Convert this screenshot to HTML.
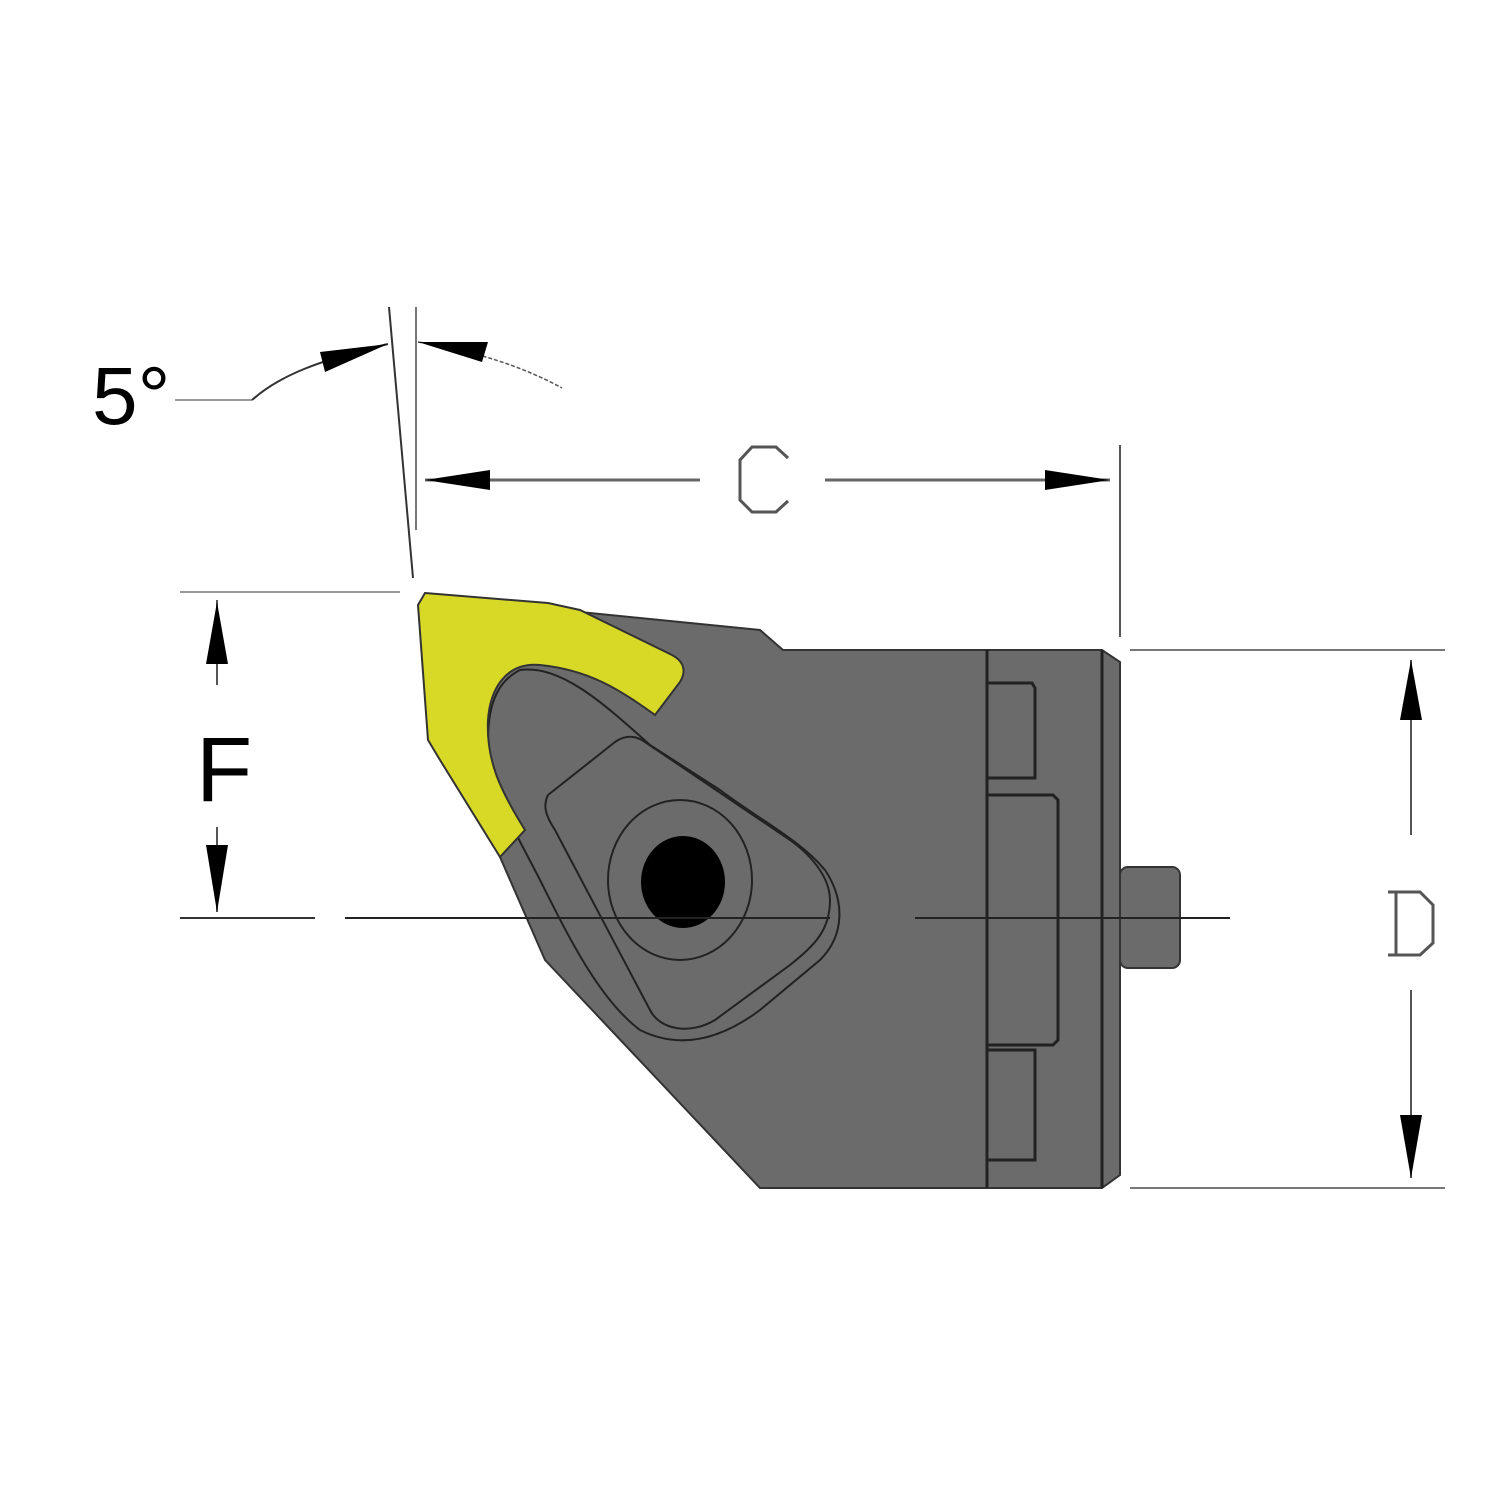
<!DOCTYPE html>
<html><head><meta charset="utf-8"><style>html,body{margin:0;padding:0;background:#fff}svg{display:block}</style></head>
<body>
<svg width="1500" height="1500" viewBox="0 0 1500 1500" xmlns="http://www.w3.org/2000/svg">
<rect width="1500" height="1500" fill="#fff"/>
<!-- main body -->
<path d="M580,612 L760,630 L783,650 L1102,650 L1120,662 L1120,1175 L1102,1188 L760,1188 L545,960 L500,857 L470,780 L470,640 L560,610 Z" fill="#6b6b6b" stroke="#333" stroke-width="2"/>
<rect x="1120" y="867" width="60" height="101" rx="8" fill="#6b6b6b" stroke="#333" stroke-width="2"/>
<line x1="1102" y1="650" x2="1102" y2="1188" stroke="#222" stroke-width="3"/>
<line x1="987" y1="650" x2="987" y2="1188" stroke="#222" stroke-width="3"/>
<path d="M987,683 L1032,683 L1035,688 L1035,778 L987,778" fill="none" stroke="#222" stroke-width="3"/>
<path d="M987,795 L1053,795 L1058,800 L1058,1040 L1053,1045 L987,1045" fill="none" stroke="#222" stroke-width="3"/>
<path d="M987,1050 L1035,1050 L1035,1160 L987,1160" fill="none" stroke="#222" stroke-width="3"/>
<!-- insert pocket outlines -->
<path d="M520,670 C500,680 488,700 488,740 C488,790 520,840 540,880 C570,940 600,1000 640,1030 C680,1050 720,1040 760,1010 L820,960 C845,935 845,900 825,870 C800,840 760,820 720,790 L650,745 C600,700 560,665 520,670 Z" fill="none" stroke="#222" stroke-width="2"/>
<path d="M548,795 L615,742 C625,735 635,735 645,742 L790,840 C815,858 830,880 830,900 C830,930 815,945 790,965 L715,1020 C690,1035 660,1030 650,1010 L555,830 C545,815 543,805 548,795 Z" fill="none" stroke="#222" stroke-width="2"/>
<ellipse cx="680" cy="880" rx="72" ry="80" fill="none" stroke="#222" stroke-width="2"/>
<ellipse cx="683" cy="882" rx="42" ry="46" fill="#000"/>
<!-- yellow insert -->
<path d="M425,593 L548,603 L580,610 L672,655 C685,662 686,672 680,682 L655,715 C620,690 590,670 540,665 C505,662 490,690 488,720 C486,760 500,790 525,830 L500,857 L440,760 L428,740 L418,605 Z" fill="#d8d926" stroke="#333" stroke-width="2"/>
<!-- centerline -->
<line x1="180" y1="918" x2="315" y2="918" stroke="#333" stroke-width="2"/>
<line x1="345" y1="918" x2="830" y2="918" stroke="#222" stroke-width="2"/>
<line x1="915" y1="918" x2="1230" y2="918" stroke="#222" stroke-width="2"/>
<!-- 5 degree -->
<line x1="389" y1="307" x2="413" y2="578" stroke="#333" stroke-width="2"/>
<line x1="416" y1="307" x2="416" y2="530" stroke="#777" stroke-width="2"/>
<text x="92" y="424" font-family="Liberation Sans, sans-serif" font-size="82" fill="#000">5°</text>
<line x1="175" y1="400" x2="252" y2="400" stroke="#999" stroke-width="2"/>
<path d="M252,400 C280,375 320,360 388,344" fill="none" stroke="#333" stroke-width="2"/>
<polygon points="388,344 320,352 325,372" fill="#000"/>
<path d="M418,342 C470,350 520,365 562,388" fill="none" stroke="#555" stroke-width="1.5" stroke-dasharray="4,2"/>
<polygon points="418,342 488,342 482,362" fill="#000"/>
<!-- C dimension -->
<line x1="1120" y1="445" x2="1120" y2="637" stroke="#555" stroke-width="2"/>
<line x1="425" y1="480" x2="700" y2="480" stroke="#666" stroke-width="3"/>
<line x1="825" y1="480" x2="1110" y2="480" stroke="#666" stroke-width="3"/>
<polygon points="425,480 490,470 490,490" fill="#000"/>
<polygon points="1110,480 1045,470 1045,490" fill="#000"/>
<path d="M788,458 L776,447 L752,447 L740,460 L740,500 L752,512 L776,512 L788,501" fill="none" stroke="#555" stroke-width="3"/>
<text x="762" y="505" font-family="Liberation Sans, sans-serif" font-size="10" fill="#fff" text-anchor="middle">C</text>
<!-- F dimension -->
<line x1="180" y1="592" x2="400" y2="592" stroke="#999" stroke-width="2"/>
<line x1="217" y1="600" x2="217" y2="685" stroke="#555" stroke-width="2"/>
<polygon points="217,602 206,664 228,664" fill="#000"/>
<line x1="217" y1="827" x2="217" y2="912" stroke="#555" stroke-width="2"/>
<polygon points="217,912 206,845 228,845" fill="#000"/>
<text x="196" y="801" font-family="Liberation Sans, sans-serif" font-size="92" fill="#000">F</text>
<!-- D dimension -->
<line x1="1130" y1="650" x2="1445" y2="650" stroke="#777" stroke-width="2"/>
<line x1="1130" y1="1188" x2="1445" y2="1188" stroke="#777" stroke-width="2"/>
<line x1="1411" y1="660" x2="1411" y2="835" stroke="#555" stroke-width="2"/>
<polygon points="1411,660 1400,720 1422,720" fill="#000"/>
<line x1="1411" y1="990" x2="1411" y2="1178" stroke="#555" stroke-width="2"/>
<polygon points="1411,1178 1400,1115 1422,1115" fill="#000"/>
<path d="M1388,892 L1420,892 L1433,905 L1433,943 L1420,955 L1388,955 M1396,892 L1396,955" fill="none" stroke="#555" stroke-width="3"/>
<text x="1410" y="930" font-family="Liberation Sans, sans-serif" font-size="10" fill="#fff" text-anchor="middle">D</text>
</svg>
</body></html>
